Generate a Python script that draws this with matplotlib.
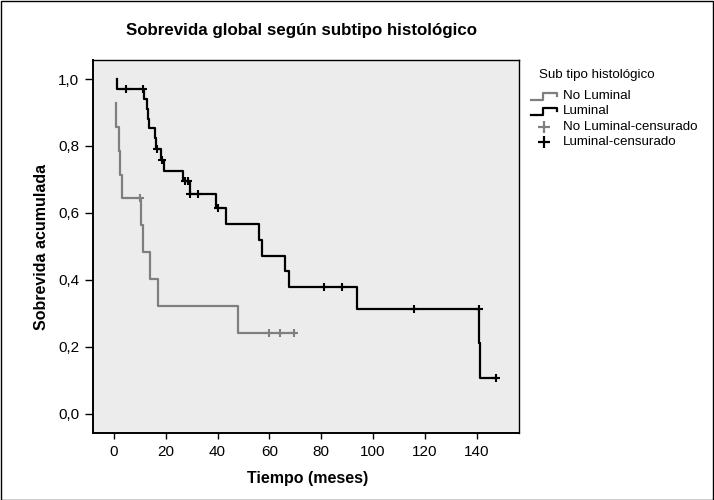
import matplotlib.pyplot as plt
from matplotlib.lines import Line2D
from matplotlib.patches import Rectangle

plt.rcParams['font.family'] = ['Liberation Sans', 'DejaVu Sans']

# %% DATA
# Luminal: tiempos (meses) y sobrevida acumulada
lum_t = [1.0, 1.0, 11.6, 12.7, 13.3, 13.6, 15.7, 16.2, 18.3, 19.4, 26.5, 29.5,
         39.4, 43.3, 55.9, 57.3, 66.2, 67.4, 94.0, 140.9, 141.5, 147.7]
lum_s = [1.0, 0.971, 0.941, 0.912, 0.882, 0.853, 0.823, 0.792, 0.758, 0.724, 0.694, 0.657,
         0.614, 0.567, 0.519, 0.472, 0.425, 0.377, 0.314, 0.21, 0.105, 0.105]
lum_cens_t = [4.6, 11.4, 16.6, 18.5, 27.3, 28.7, 29.5, 32.5, 40.0, 81.1, 88.0, 116.0, 140.9, 147.7]
lum_cens_s = [0.971, 0.971, 0.792, 0.758, 0.694, 0.694, 0.657, 0.657, 0.614, 0.377, 0.377,
              0.314, 0.314, 0.105]

# No Luminal
nolum_t = [0.9, 0.9, 1.8, 2.2, 3.1, 10.5, 11.2, 13.8, 17.1, 48.0, 69.7]
nolum_s = [0.929, 0.857, 0.786, 0.714, 0.643, 0.563, 0.482, 0.402, 0.321, 0.241, 0.241]
nolum_cens_t = [10.2, 59.8, 64.3, 69.7]
nolum_cens_s = [0.643, 0.241, 0.241, 0.241]

yticks = [0.0, 0.2, 0.4, 0.6, 0.8, 1.0]
ytick_labels = ['0,0', '0,2', '0,4', '0,6', '0,8', '1,0']
xticks = [0, 20, 40, 60, 80, 100, 120, 140]

legend_title = 'Sub tipo histológico'
legend_labels = ['No Luminal', 'Luminal', 'No Luminal-censurado', 'Luminal-censurado']

GRAY = '#7F7F7F'
BLACK = '#000000'

# %% PLOT
fig = plt.figure(figsize=(7.14, 5.0), dpi=100)
W, H = 714, 500
ax = fig.add_axes([93 / W, 1 - 433 / H, (519 - 93) / W, (433 - 60) / H])
ax.set_facecolor('#EBECEB')

ax.step(nolum_t, nolum_s, where='post', color=GRAY, lw=1.6)
ax.step(lum_t, lum_s, where='post', color=BLACK, lw=1.6)
ax.plot(nolum_cens_t, nolum_cens_s, '+', color=GRAY, ms=6, mew=1.5)
ax.plot(lum_cens_t, lum_cens_s, '+', color=BLACK, ms=6, mew=1.5)

ax.set_xlim(-8.1, 156.4)
ax.set_ylim(-0.058, 1.057)
ax.set_yticks(yticks)
ax.set_yticklabels(ytick_labels)
ax.set_xticks(xticks)
ax.tick_params(axis='y', length=6, width=1, labelsize=11, pad=4)
ax.tick_params(axis='x', length=4, width=1, labelsize=11, pad=5)
for sp in ax.spines.values():
    sp.set_color('black')
    sp.set_linewidth(1)
ax.spines['left'].set_linewidth(1.4)
ax.spines['bottom'].set_linewidth(1.4)

fig.text(301 / W, 1 - 30 / H, 'Sobrevida global según subtipo histológico',
         ha='center', va='center', fontsize=12.2, fontweight='bold')
fig.text(308 / W, 1 - 478 / H, 'Tiempo (meses)', ha='center', va='center',
         fontsize=11.5, fontweight='bold')
fig.text(42 / W, 1 - 247 / H, 'Sobrevida acumulada', ha='center', va='center',
         rotation=90, fontsize=11.5, fontweight='bold')

# legend
fig.text(539 / W, 1 - 75 / H, legend_title, ha='left', va='center', fontsize=9.6)
rows_y = [96, 111, 127, 142]
for i, (lab, yy) in enumerate(zip(legend_labels, rows_y)):
    fig.text(563 / W, 1 - yy / H, lab, ha='left', va='center', fontsize=9.6)
    col = GRAY if i in (0, 2) else BLACK
    if i < 2:
        xs = [531, 543, 543, 557, 557]
        ys = [yy + 4, yy + 4, yy - 3, yy - 3, yy]
        fig.add_artist(Line2D([x / W for x in xs], [1 - y / H for y in ys],
                              color=col, lw=1.6, transform=fig.transFigure))
    else:
        fig.add_artist(Line2D([544 / W], [1 - yy / H], marker='+', ms=9, mew=1.6,
                              color=col, transform=fig.transFigure))

fig.add_artist(Rectangle((0.5 / W, 0.5 / H), 1 - 1.5 / W, 1 - 1.5 / H, fill=False,
                         edgecolor='black', lw=1, transform=fig.transFigure))

fig.savefig('out.png', dpi=100)
